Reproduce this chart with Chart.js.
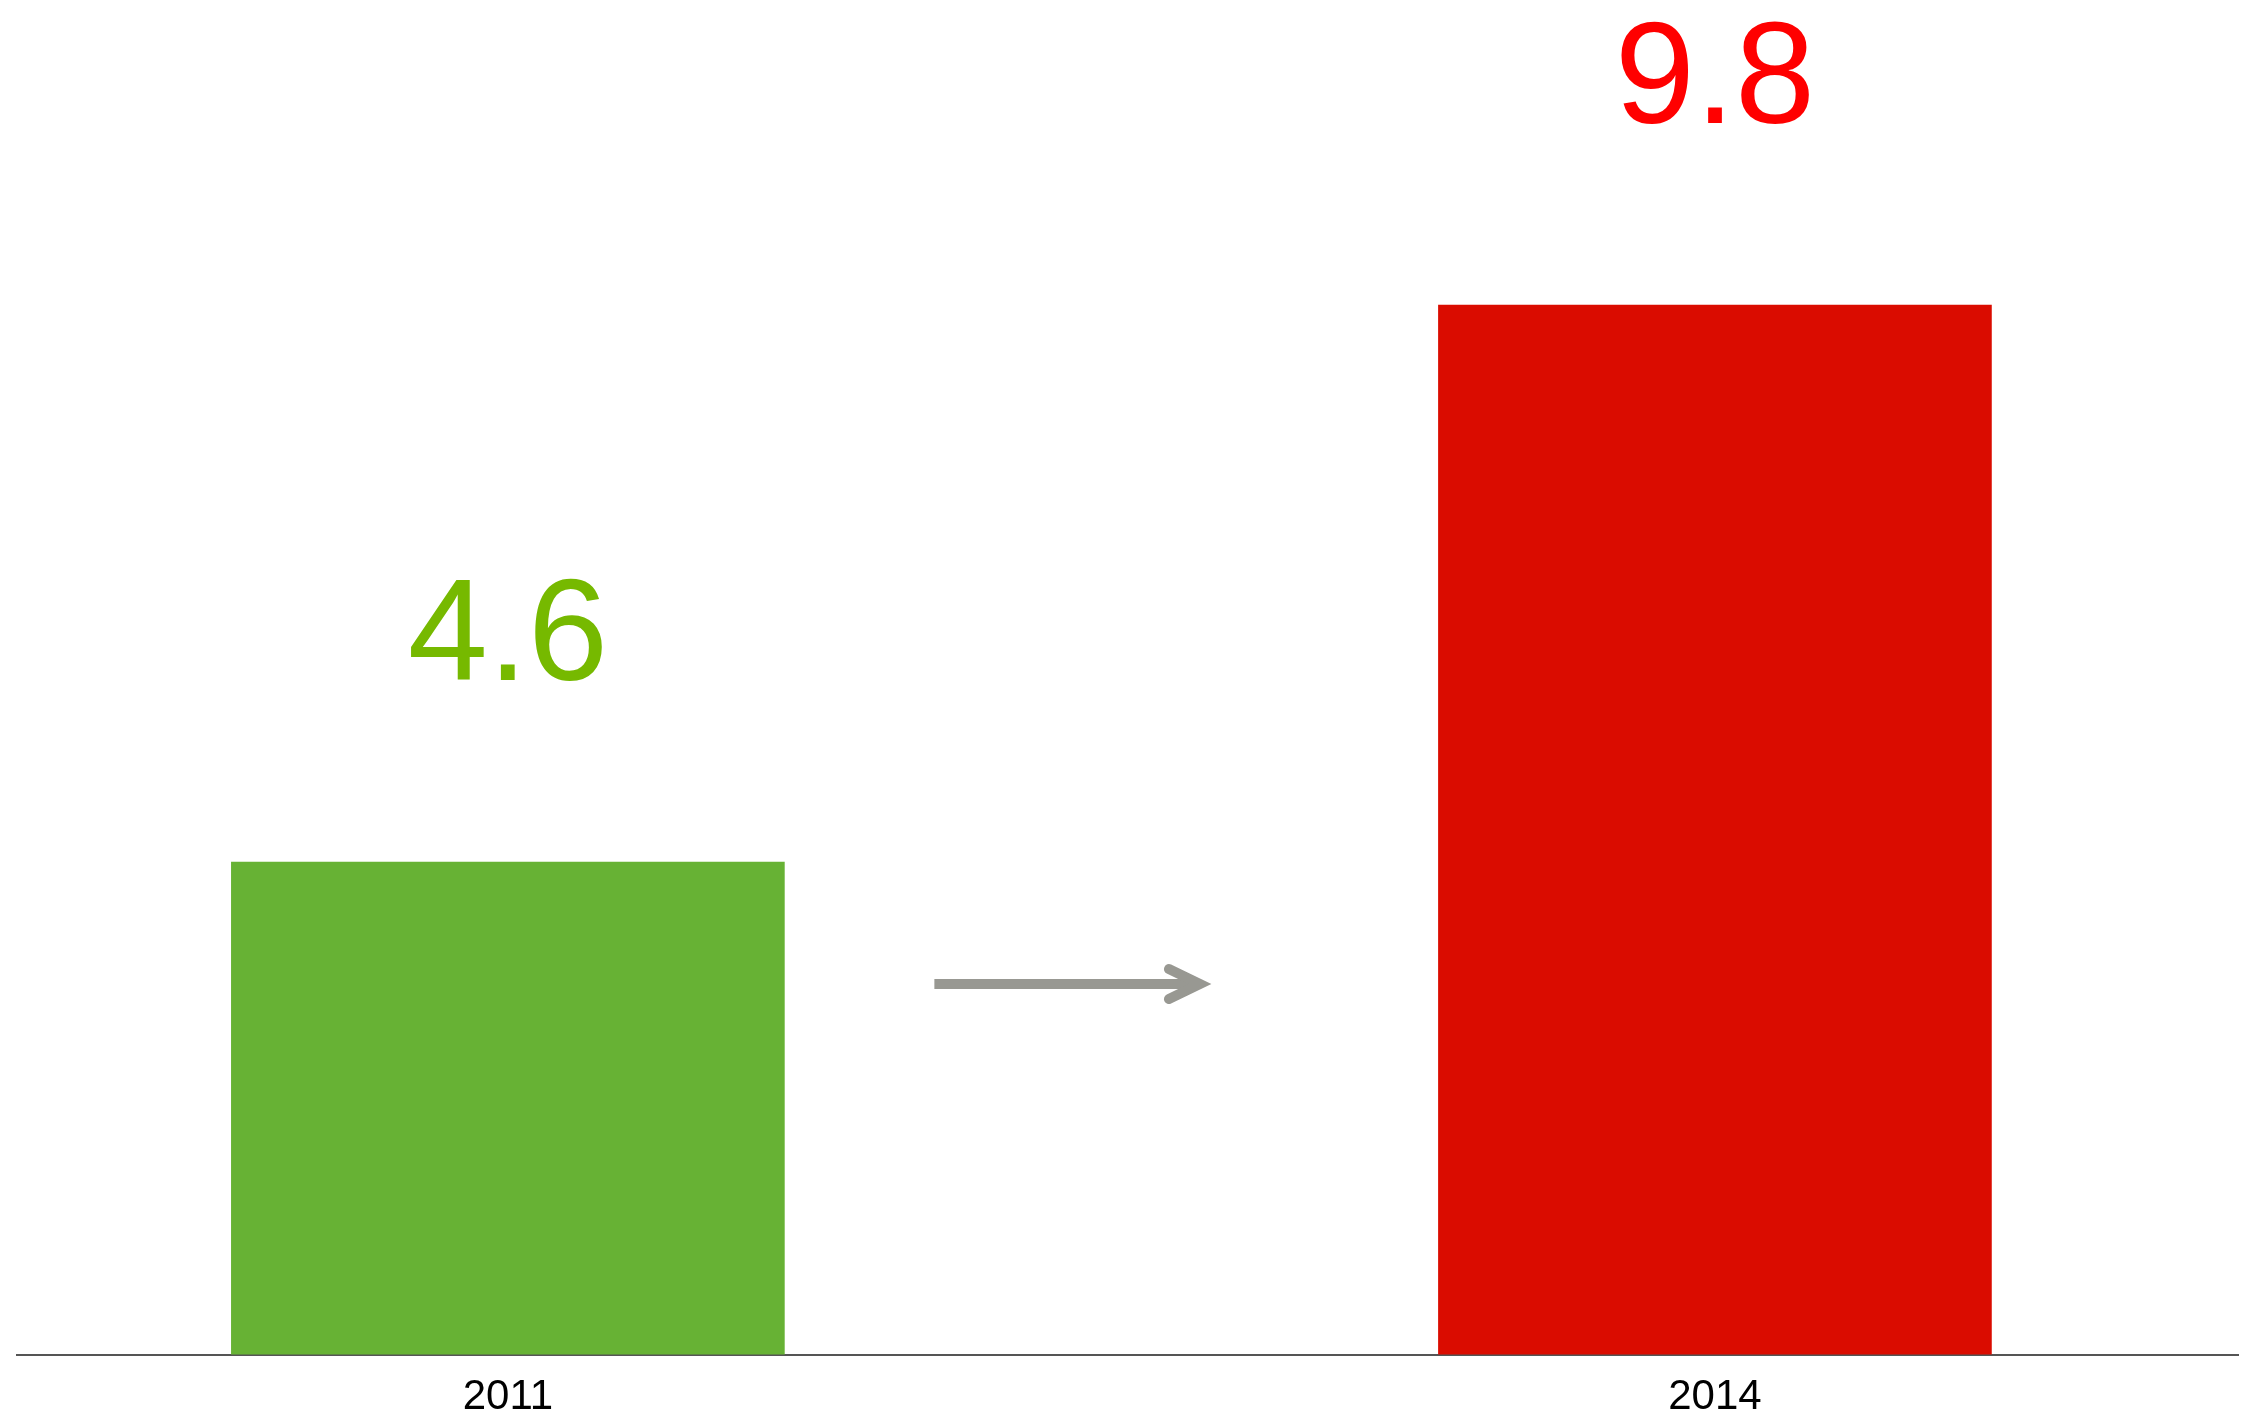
<!DOCTYPE html>
<html>
<head>
<meta charset="utf-8">
<script src="https://cdn.jsdelivr.net/npm/chart.js@4"></script>
<style>
    html, body { margin: 0; padding: 0; background: #fff; }
    #wrap { width: 2253px; height: 1427px; }
</style>
</head>
<body>
<div id="wrap"><canvas id="growthChart" width="2253" height="1427"></canvas></div>
<script>
const years = [2011, 2014];
const values = [4.6, 9.8];
const barColors = ['#67b234', '#da0c00'];
const labelColors = ['#76b900', '#ff0000'];

const FONT = '"Liberation Sans", Arial, sans-serif';

// big coloured numbers above each bar
const valueLabels = {
    id: 'valueLabels',
    afterDatasetsDraw(chart) {
        const ctx = chart.ctx;
        const meta = chart.getDatasetMeta(0);
        ctx.save();
        ctx.font = '144px ' + FONT;
        ctx.textAlign = 'center';
        ctx.textBaseline = 'alphabetic';
        meta.data.forEach((bar, i) => {
            ctx.fillStyle = labelColors[i];
            ctx.fillText(values[i].toFixed(1), bar.x, bar.y - 182);
        });
        ctx.restore();
    }
};

// grey arrow between the bars
const growthArrow = {
    id: 'growthArrow',
    afterDatasetsDraw(chart) {
        const { ctx, scales: { x, y } } = chart;
        const x0 = x.getPixelForValue(2012.06);
        const x1 = x.getPixelForValue(2012.72);
        const yy = y.getPixelForValue(3.46);
        ctx.save();
        ctx.strokeStyle = '#989892';
        ctx.lineWidth = 10;
        ctx.lineCap = 'butt';
        ctx.beginPath();
        ctx.moveTo(x0, yy);
        ctx.lineTo(x1, yy);
        ctx.stroke();
        ctx.lineCap = 'round';
        ctx.lineJoin = 'miter';
        ctx.beginPath();
        ctx.moveTo(x1 - 31, yy - 15);
        ctx.lineTo(x1, yy);
        ctx.lineTo(x1 - 31, yy + 15);
        ctx.stroke();
        ctx.restore();
    }
};

new Chart(document.getElementById('growthChart'), {
    type: 'bar',
    data: {
        datasets: [{
            data: years.map((yr, i) => ({ x: yr, y: values[i] })),
            backgroundColor: barColors,
            borderWidth: 0,
            barThickness: 553
        }]
    },
    options: {
        responsive: false,
        animation: false,
        devicePixelRatio: 1,
        layout: { padding: { left: 17, right: 15, top: 0, bottom: -14 } },
        plugins: {
            legend: { display: false },
            tooltip: { enabled: false }
        },
        scales: {
            x: {
                type: 'linear',
                offset: false,
                min: 2009.78,
                max: 2015.30,
                afterBuildTicks: (axis) => { axis.ticks = years.map(v => ({ value: v })); },
                grid: { display: false, drawTicks: false, offset: false },
                border: { display: true, color: '#555', width: 2 },
                ticks: {
                    color: '#000',
                    padding: 18,
                    maxRotation: 0,
                    autoSkip: false,
                    font: { family: FONT, size: 42 },
                    callback: (v) => String(v)
                }
            },
            y: {
                min: 0,
                max: 12.65,
                display: false
            }
        }
    },
    plugins: [valueLabels, growthArrow]
});
</script>
</body>
</html>
